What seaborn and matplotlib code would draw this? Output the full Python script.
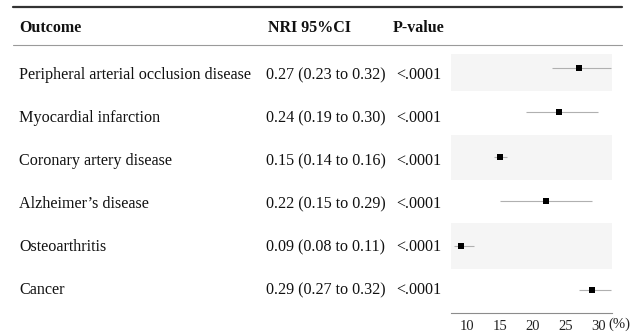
"""
plot.py
Forest plot of NRI by outcome, drawn as a small table with a dot-and-whisker panel.
"""

import pandas as pd
import matplotlib.pyplot as plt
import seaborn as sns
from matplotlib.lines import Line2D

#
# Data read off the reference table
#

outcomes = ["Peripheral arterial occlusion disease",
            "Myocardial infarction",
            "Coronary artery disease",
            "Alzheimer\u2019s disease",
            "Osteoarthritis",
            "Cancer"]
nri = [0.27, 0.24, 0.15, 0.22, 0.09, 0.29]
ci_low = [0.23, 0.19, 0.14, 0.15, 0.08, 0.27]
ci_high = [0.32, 0.30, 0.16, 0.29, 0.11, 0.32]
p_values = ["<.0001", "<.0001", "<.0001", "<.0001", "<.0001", "<.0001"]
x_ticks = [10, 15, 20, 25, 30]

df = pd.DataFrame({"outcome": outcomes, "nri": nri, "lo": ci_low, "hi": ci_high, "p": p_values})
df["row"] = range(len(df))
df["pct"] = df["nri"] * 100
df["lo_pct"] = df["lo"] * 100
df["hi_pct"] = df["hi"] * 100
df["label"] = df.apply(lambda r: f"{r.nri:.2f} ({r.lo:.2f} to {r.hi:.2f})", axis=1)

sns.set_style("white")
plt.rcParams["font.family"] = ["Liberation Serif", "DejaVu Serif"]

W, H = 631, 334
fig = plt.figure(figsize=(W / 100, H / 100), dpi=100)

#
# Forest panel
#

ax = fig.add_axes([451 / W, (H - 313.3) / H, (611.7 - 451) / W, (313.3 - 54) / H])

for i in df["row"]:
    if i % 2 == 0:
        ax.axhspan(i - 0.5, i + 0.52, color="#f5f5f5", lw=0, zorder=0)

ax.hlines(df["row"], df["lo_pct"], df["hi_pct"], color="#b0b0b0", lw=0.8, zorder=2)
sns.scatterplot(data=df, x="pct", y="row", marker="s", color="black",
                s=24, linewidth=0, ax=ax, zorder=3, legend=False)

ax.set_xlim(7.5, 32.05)
ax.set_ylim(5.525, -0.315)
ax.set_xticks(x_ticks)
ax.set_xticklabels([str(t) for t in x_ticks])
ax.set_yticks([])
ax.set_xlabel("")
ax.set_ylabel("")
for side in ["top", "right", "left"]:
    ax.spines[side].set_visible(False)
ax.spines["bottom"].set_color("#8c8c8c")
ax.spines["bottom"].set_linewidth(0.8)
ax.tick_params(axis="x", direction="out", length=3, width=0.7, color="#8c8c8c",
               labelsize=10.5, labelcolor="#222222", pad=2)
ax.set_facecolor("none")

#
# Table part
#

def fy(px):
    return 1 - px / H

fig.text(608 / W, fy(324.5), "(%)", ha="left", va="center", fontsize=10.5, color="#222222")

line_kw = dict(transform=fig.transFigure)
fig.add_artist(Line2D([12.7 / W, 621.7 / W], [fy(6.5)] * 2, color="#333333", lw=1.6, **line_kw))
fig.add_artist(Line2D([12.7 / W, 621.7 / W], [fy(44.5)] * 2, color="#9a9a9a", lw=0.8, **line_kw))

head_kw = dict(fontsize=11.5, fontweight="bold", va="center", ha="left", color="#111111")
fig.text(19 / W, fy(28), "Outcome", **head_kw)
fig.text(268 / W, fy(28), "NRI 95%CI", **head_kw)
fig.text(393 / W, fy(28), "P-value", **head_kw)

row_kw = dict(fontsize=11.6, va="center", ha="left", color="#111111")
for i, r in df.iterrows():
    y = fy(75 + 43 * i)
    fig.text(19 / W, y, r.outcome, **row_kw)
    fig.text(266 / W, y, r.label, **row_kw)
    fig.text(396 / W, y, r.p, **row_kw)

fig.savefig("out.png", dpi=100)
